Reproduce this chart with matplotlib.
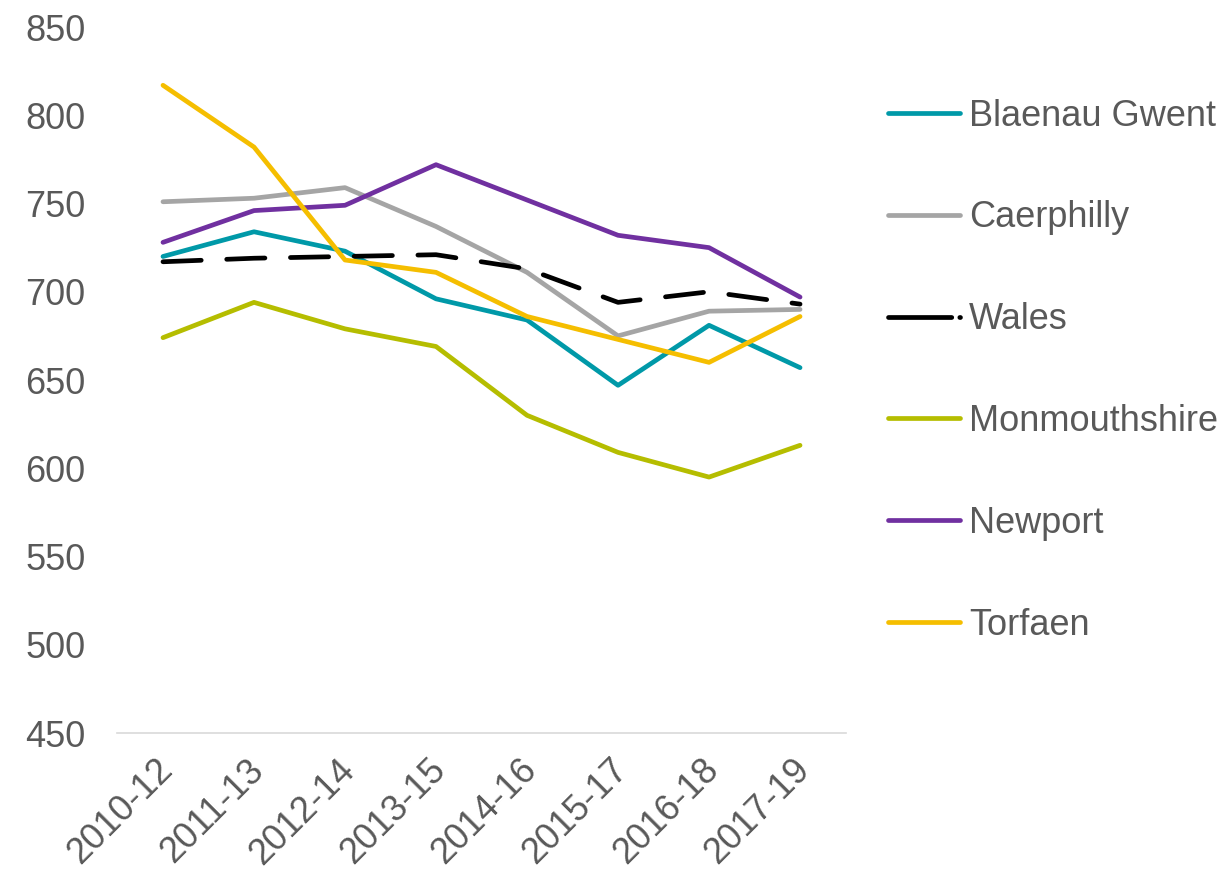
import matplotlib.pyplot as plt
from matplotlib.transforms import ScaledTranslation

periods = ['2010-12', '2011-13', '2012-14', '2013-15', '2014-16', '2015-17', '2016-18', '2017-19']

blaenau_gwent = [720, 734, 723, 696, 684, 647, 681, 657]
caerphilly = [751, 753, 759, 737, 711, 675, 689, 690]
wales = [717, 719, 720, 721, 713, 694, 700, 693]
monmouthshire = [674, 694, 679, 669, 630, 609, 595, 613]
newport = [728, 746, 749, 772, 752, 732, 725, 697]
torfaen = [817, 782, 718, 711, 686, 673, 660, 686]

text_color = '#595959'
plt.rcParams['font.family'] = ['Liberation Sans', 'DejaVu Sans']

fig = plt.figure(figsize=(12.29, 8.72), dpi=100)
ax = fig.add_axes([0.0956, 0.1594, 0.5924, 0.8096])

x = list(range(len(periods)))
lw = 3.4
ax.plot(x, blaenau_gwent, color='#0099A8', lw=lw, label='Blaenau Gwent', solid_capstyle='round')
ax.plot(x, caerphilly, color='#A5A5A5', lw=lw, label='Caerphilly', solid_capstyle='round')
ax.plot(x, wales, color='black', lw=lw, label='Wales', dashes=(8.1, 5.4), dash_capstyle='round')
ax.plot(x, monmouthshire, color='#B5BD00', lw=lw, label='Monmouthshire', solid_capstyle='round')
ax.plot(x, newport, color='#7030A0', lw=lw, label='Newport', solid_capstyle='round')
ax.plot(x, torfaen, color='#F5BE00', lw=lw, label='Torfaen', solid_capstyle='round')

ax.set_xlim(-0.5, 7.5)
ax.set_ylim(450, 850)
ax.set_yticks(range(450, 851, 50))
ax.set_xticks(x)
ax.set_xticklabels(periods, rotation=45, ha='right', va='top', rotation_mode='anchor')

for side in ['top', 'right', 'left']:
    ax.spines[side].set_visible(False)
ax.spines['bottom'].set_color('#D9D9D9')
ax.spines['bottom'].set_linewidth(1.2)
ax.tick_params(axis='both', length=0, labelsize=26, colors=text_color)
ax.tick_params(axis='y', pad=23)
ax.tick_params(axis='x', pad=14)

# nudge rotated labels like the original
offset = ScaledTranslation(-6 / 72, 0, fig.dpi_scale_trans)
for lbl in ax.get_xticklabels():
    lbl.set_transform(lbl.get_transform() + offset)

leg = fig.legend(loc='upper left', bbox_to_anchor=(0.7225, 0.887), frameon=False,
                 fontsize=26, labelspacing=1.85, handlelength=2.0, handletextpad=0.25,
                 borderpad=0, borderaxespad=0)
for t in leg.get_texts():
    t.set_color(text_color)
for h in leg.get_lines():
    h.set_solid_capstyle('round')
leg.get_lines()[2].set_dashes((13.4, 1.7))

fig.savefig('out.png', dpi=100)
